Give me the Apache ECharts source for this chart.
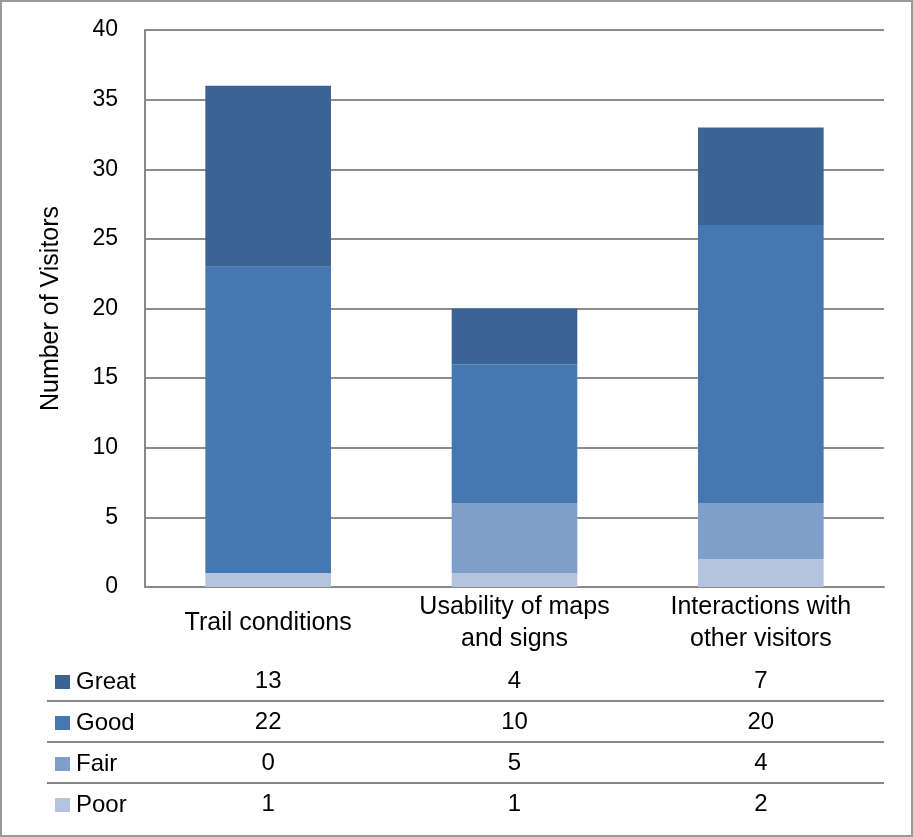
<!DOCTYPE html>
<html><head><meta charset="utf-8">
<script src="https://cdn.jsdelivr.net/npm/echarts@6/dist/echarts.min.js"></script>
<style>html,body{margin:0;padding:0;background:#fff}#c{width:913px;height:837px}</style>
</head><body><div id="c"></div>
<script>
const categories = ['Trail conditions', 'Usability of maps\nand signs', 'Interactions with\nother visitors'];
const great = [13, 4, 7];
const good = [22, 10, 20];
const fair = [0, 5, 4];
const poor = [1, 1, 2];
const legendOrder = ['Great', 'Good', 'Fair', 'Poor'];
const tableRows = [great, good, fair, poor];
const yMin = 0, yMax = 40, yStep = 5;
const axisTitle = 'Number of Visitors';

const FONT = 'Liberation Sans';
const FS = 25;
const FSN = 23;
const colors = {Great: '#3B6494', Good: '#4677B0', Fair: '#7F9ECA', Poor: '#B4C4DF'};

const chart = echarts.init(document.getElementById('c'), null, {renderer: 'canvas'});
const mk = (name, data) => ({
  name, type: 'bar', stack: 'total', data, barWidth: '51%',
  itemStyle: {color: colors[name]}, emphasis: {disabled: true}
});
chart.setOption({
  animation: false,
  textStyle: {fontFamily: FONT},
  grid: {left: 145, right: 29, top: 30, bottom: 250},
  legend: {
    data: legendOrder, orient: 'vertical', left: 55, top: 669, padding: 0,
    icon: 'rect', itemWidth: 15, itemHeight: 14, itemGap: 15,
    selectedMode: false,
    textStyle: {fontFamily: FONT, fontSize: 24, color: '#000', lineHeight: 26, padding: [0, 0, 0, 1]}
  },
  xAxis: {
    type: 'category', data: categories,
    axisLine: {lineStyle: {color: '#888', width: 2}},
    axisTick: {show: false},
    axisLabel: {fontFamily: FONT, fontSize: FS, color: '#000', lineHeight: 32, verticalAlign: 'middle', margin: 36, interval: 0}
  },
  yAxis: {
    type: 'value', min: yMin, max: yMax, interval: yStep,
    name: axisTitle, nameLocation: 'middle', nameGap: 81,
    nameTextStyle: {fontFamily: FONT, fontSize: FS, color: '#000'},
    axisLine: {show: true, lineStyle: {color: '#888', width: 2}},
    axisTick: {show: false},
    axisLabel: {fontFamily: FONT, fontSize: FSN, color: '#000', margin: 27},
    splitLine: {lineStyle: {color: '#8c8c8c', width: 2}}
  },
  series: [mk('Poor', poor), mk('Fair', fair), mk('Good', good), mk('Great', great)]
});

// data table below the chart
const rowY = [681, 722, 763, 804];
const sepY = [701, 742, 783];
const graphics = [];
graphics.push({type: 'rect', shape: {x: 1, y: 1, width: 911, height: 835},
  style: {fill: null, stroke: '#999', lineWidth: 2}, silent: true});
sepY.forEach(y => graphics.push({type: 'line', shape: {x1: 47, y1: y, x2: 884, y2: y},
  style: {stroke: '#888', lineWidth: 2}, silent: true}));
tableRows.forEach((row, r) => {
  row.forEach((v, i) => {
    const x = chart.convertToPixel({xAxisIndex: 0}, i);
    graphics.push({type: 'text', x, y: rowY[r], silent: true,
      style: {text: String(v), fontFamily: FONT, fontSize: 24, fill: '#000', align: 'center', verticalAlign: 'middle'}});
  });
});
chart.setOption({graphic: graphics});
</script></body></html>
